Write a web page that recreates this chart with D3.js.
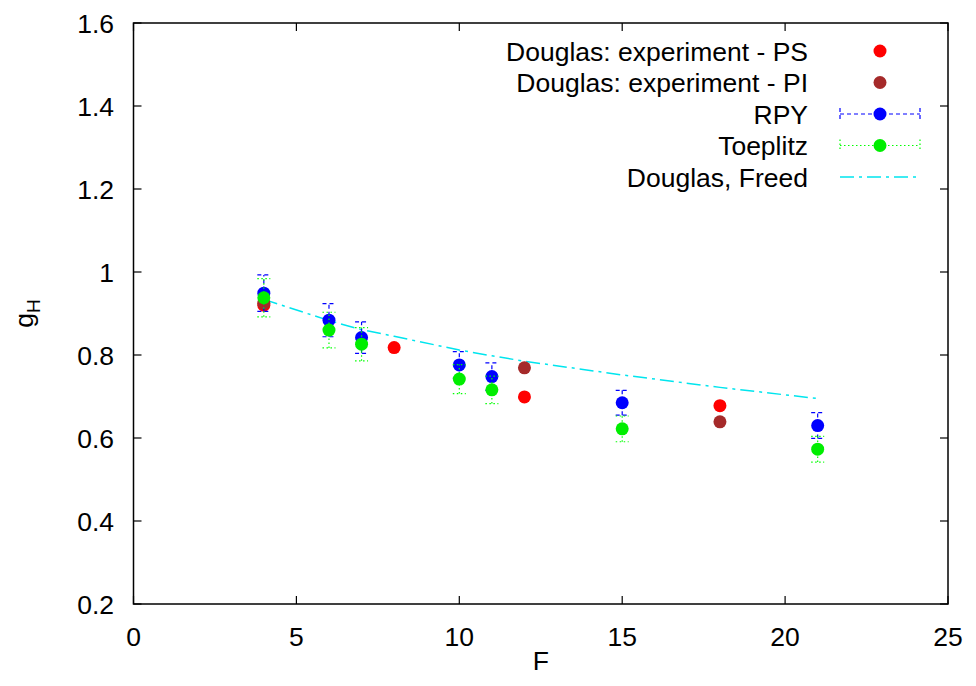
<!DOCTYPE html>
<html>
<head>
<meta charset="utf-8">
<script src="https://cdn.jsdelivr.net/npm/d3@7/dist/d3.min.js"></script>
<style>
body { margin: 0; background: #fff; }
svg text { font-family: "Liberation Sans", Arial, Helvetica, sans-serif; }
</style>
</head>
<body>
<svg id="chart" width="976" height="686"></svg>
<script>
// Data
const psF = [4, 8, 12, 18];
const psG = [0.92, 0.818, 0.699, 0.678];
const piF = [4, 12, 18];
const piG = [0.925, 0.769, 0.639];
const rpyF = [4, 6, 7, 10, 11, 15, 21];
const rpyG = [0.949, 0.884, 0.842, 0.776, 0.748, 0.685, 0.630];
const rpyErr = [0.044, 0.040, 0.038, 0.032, 0.033, 0.030, 0.031];
const toeF = [4, 6, 7, 10, 11, 15, 21];
const toeG = [0.938, 0.860, 0.826, 0.742, 0.716, 0.622, 0.573];
const toeErr = [0.046, 0.043, 0.040, 0.035, 0.033, 0.031, 0.031];
const dfF = [4, 6, 7, 8, 10, 11, 12, 15, 18, 21];
const dfG = [0.934, 0.883, 0.861, 0.845, 0.812, 0.798, 0.785, 0.752, 0.722, 0.695];
const xTicks = [0, 5, 10, 15, 20, 25];
const yTicks = [0.2, 0.4, 0.6, 0.8, 1.0, 1.2, 1.4, 1.6];
const legendLabels = ["Douglas: experiment - PS", "Douglas: experiment - PI", "RPY", "Toeplitz", "Douglas, Freed"];

const svg = d3.select("#chart");
const L = 133.5, R = 948, T = 23, B = 604;
const x = d3.scaleLinear().domain([0, 25]).range([L, R]);
const y = d3.scaleLinear().domain([0.2, 1.6]).range([B, T]);
const tickLen = 8;
const fs = 26.5;

// frame
svg.append("rect").attr("x", L).attr("y", T).attr("width", R - L).attr("height", B - T)
  .attr("fill", "none").attr("stroke", "#000").attr("stroke-width", 1.5);

// ticks
const axG = svg.append("g").attr("stroke", "#000").attr("stroke-width", 1.2);
xTicks.forEach(t => {
  axG.append("line").attr("x1", x(t)).attr("x2", x(t)).attr("y1", B).attr("y2", B - tickLen);
  axG.append("line").attr("x1", x(t)).attr("x2", x(t)).attr("y1", T).attr("y2", T + tickLen);
});
yTicks.forEach(t => {
  axG.append("line").attr("x1", L).attr("x2", L + tickLen).attr("y1", y(t)).attr("y2", y(t));
  axG.append("line").attr("x1", R).attr("x2", R - tickLen).attr("y1", y(t)).attr("y2", y(t));
});
const fmtY = v => (Math.abs(v - 1) < 1e-9 ? "1" : d3.format(".1f")(v));
svg.append("g").selectAll("text").data(xTicks).join("text")
  .attr("x", d => x(d)).attr("y", 646).attr("text-anchor", "middle")
  .attr("font-size", fs).text(d => d);
svg.append("g").selectAll("text").data(yTicks).join("text")
  .attr("x", 114).attr("y", d => y(d) + 9.5).attr("text-anchor", "end")
  .attr("font-size", fs).text(fmtY);

// axis labels
svg.append("text").attr("x", x(12.5)).attr("y", 670).attr("text-anchor", "middle")
  .attr("font-size", fs).text("F");
const yl = svg.append("text").attr("transform", `translate(33,${(T + B) / 2}) rotate(-90)`)
  .attr("text-anchor", "middle").attr("font-size", fs);
yl.append("tspan").text("g");
yl.append("tspan").attr("font-size", 19).attr("dy", 7).text("H");

svg.append("defs").append("clipPath").attr("id", "clip")
  .append("rect").attr("x", L).attr("y", T).attr("width", R - L).attr("height", B - T);
const plot = svg.append("g").attr("clip-path", "url(#clip)");

// Douglas, Freed line
const dfData = dfF.map((f, i) => [f, dfG[i]]);
plot.append("path").datum(dfData)
  .attr("d", d3.line().x(d => x(d[0])).y(d => y(d[1])))
  .attr("fill", "none").attr("stroke", "#00e5ee").attr("stroke-width", 1.5)
  .attr("stroke-dasharray", "14,5,3,5");

const r = 6.5, cap = 6.5;
function errSeries(F, G, E, color, dash) {
  const g = plot.append("g").attr("stroke", color).attr("stroke-width", 1.2).attr("stroke-dasharray", dash);
  F.forEach((f, i) => {
    const cx = x(f), lo = y(G[i] - E[i]), hi = y(G[i] + E[i]);
    g.append("line").attr("x1", cx).attr("x2", cx).attr("y1", lo).attr("y2", hi);
    g.append("line").attr("x1", cx - cap).attr("x2", cx + cap).attr("y1", lo).attr("y2", lo);
    g.append("line").attr("x1", cx - cap).attr("x2", cx + cap).attr("y1", hi).attr("y2", hi);
  });
}
function dots(F, G, color) {
  plot.append("g").selectAll("circle").data(F.map((f, i) => [f, G[i]])).join("circle")
    .attr("cx", d => x(d[0])).attr("cy", d => y(d[1])).attr("r", r).attr("fill", color);
}
dots(psF, psG, "#ff0000");
dots(piF, piG, "#a52a2a");
errSeries(rpyF, rpyG, rpyErr, "#0000ff", "4,3");
dots(rpyF, rpyG, "#0000ff");
errSeries(toeF, toeG, toeErr, "#00ff00", "1.5,2.5");
dots(toeF, toeG, "#00ee00");

// legend
const lgY = [51, 82.5, 114, 145.5, 177];
const lgX = 808, sx1 = 840, sx2 = 920, mx = 880;
const lg = svg.append("g");
legendLabels.forEach((t, i) => {
  lg.append("text").attr("x", lgX).attr("y", lgY[i] + 9.5).attr("text-anchor", "end")
    .attr("font-size", fs).text(t);
});
lg.append("circle").attr("cx", mx).attr("cy", lgY[0]).attr("r", r).attr("fill", "#ff0000");
lg.append("circle").attr("cx", mx).attr("cy", lgY[1]).attr("r", r).attr("fill", "#a52a2a");
[[2, "#0000ff", "4,3"], [3, "#00ff00", "1.5,2.5"]].forEach(([i, c, dash]) => {
  const g = lg.append("g").attr("stroke", c).attr("stroke-width", 1.2).attr("stroke-dasharray", dash);
  g.append("line").attr("x1", sx1).attr("x2", sx2).attr("y1", lgY[i]).attr("y2", lgY[i]);
  g.append("line").attr("x1", sx1).attr("x2", sx1).attr("y1", lgY[i] - 6).attr("y2", lgY[i] + 6);
  g.append("line").attr("x1", sx2).attr("x2", sx2).attr("y1", lgY[i] - 6).attr("y2", lgY[i] + 6);
  lg.append("circle").attr("cx", mx).attr("cy", lgY[i]).attr("r", r).attr("fill", i === 2 ? "#0000ff" : "#00ee00");
});
lg.append("line").attr("x1", sx1).attr("x2", sx2).attr("y1", lgY[4]).attr("y2", lgY[4])
  .attr("stroke", "#00e5ee").attr("stroke-width", 1.5).attr("stroke-dasharray", "14,5,3,5");
</script>
</body>
</html>
